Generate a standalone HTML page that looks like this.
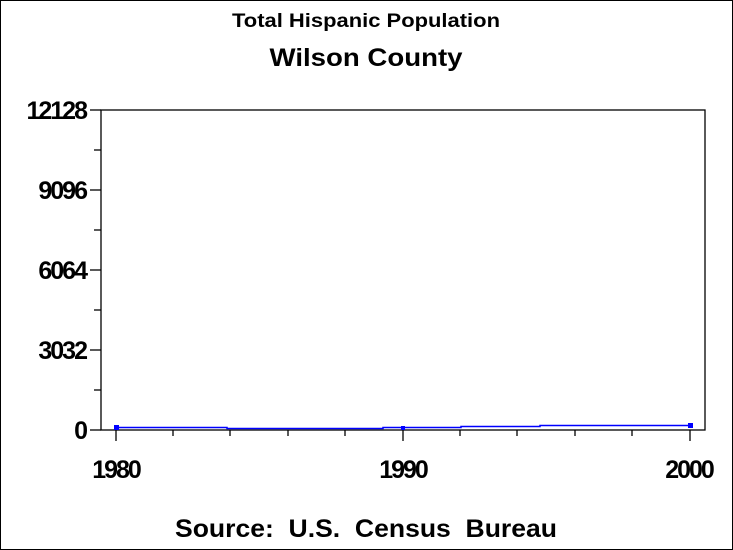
<!DOCTYPE html>
<html><head><meta charset="utf-8"><style>
html,body{margin:0;padding:0;background:#fff}
svg{display:block}
text{font-family:"Liberation Sans",Arial,sans-serif;fill:#000;font-weight:bold}
</style></head><body>
<svg width="733" height="550" viewBox="0 0 733 550" xmlns="http://www.w3.org/2000/svg">
<rect x="0.5" y="0.5" width="732" height="549" fill="#fff" stroke="#000" stroke-width="1"/>
<text x="366" y="27" font-size="19" text-anchor="middle" textLength="268" lengthAdjust="spacingAndGlyphs">Total Hispanic Population</text>
<text x="366" y="66" font-size="25" text-anchor="middle" textLength="193" lengthAdjust="spacingAndGlyphs">Wilson County</text>
<rect x="101" y="110" width="604" height="320" fill="none" stroke="#000" stroke-width="1.3"/>
<g stroke="#000" stroke-width="1.3">
<line x1="90" y1="110" x2="101" y2="110"/><line x1="94" y1="150" x2="101" y2="150"/>
<line x1="90" y1="190" x2="101" y2="190"/><line x1="94" y1="230" x2="101" y2="230"/>
<line x1="90" y1="270" x2="101" y2="270"/><line x1="94" y1="310" x2="101" y2="310"/>
<line x1="90" y1="350" x2="101" y2="350"/><line x1="94" y1="390" x2="101" y2="390"/>
<line x1="90" y1="430" x2="101" y2="430"/>
<line x1="116" y1="430" x2="116" y2="441"/><line x1="403" y1="430" x2="403" y2="441"/><line x1="690" y1="430" x2="690" y2="441"/>
<line x1="173" y1="430" x2="173" y2="436"/><line x1="230" y1="430" x2="230" y2="436"/>
<line x1="288" y1="430" x2="288" y2="436"/><line x1="345" y1="430" x2="345" y2="436"/>
<line x1="460" y1="430" x2="460" y2="436"/><line x1="517" y1="430" x2="517" y2="436"/>
<line x1="575" y1="430" x2="575" y2="436"/><line x1="632" y1="430" x2="632" y2="436"/>
</g>
<g font-size="25" text-anchor="end" letter-spacing="-2">
<text x="86" y="119">12128</text>
<text x="86" y="199">9096</text>
<text x="86" y="279">6064</text>
<text x="86" y="359">3032</text>
<text x="86" y="439">0</text>
</g>
<g font-size="25" text-anchor="middle" letter-spacing="-2">
<text x="116" y="478">1980</text>
<text x="403" y="478">1990</text>
<text x="689" y="478">2000</text>
</g>
<polyline fill="none" stroke="#0000ff" stroke-width="1.5" points="116,427.5 227,427.5 227,428.5 383,428.5 383,427.5 461,427.5 461,426.5 540,426.5 540,425.5 690,425.5"/>
<rect x="114" y="425" width="5" height="5" fill="#0000ff"/>
<rect x="401" y="426" width="4" height="4" fill="#0000ff"/>
<rect x="688" y="423" width="5" height="5" fill="#0000ff"/>
<text x="366" y="537" font-size="25" text-anchor="middle" textLength="382" lengthAdjust="spacingAndGlyphs" style="white-space:pre">Source:  U.S.  Census  Bureau</text>
</svg>
</body></html>
